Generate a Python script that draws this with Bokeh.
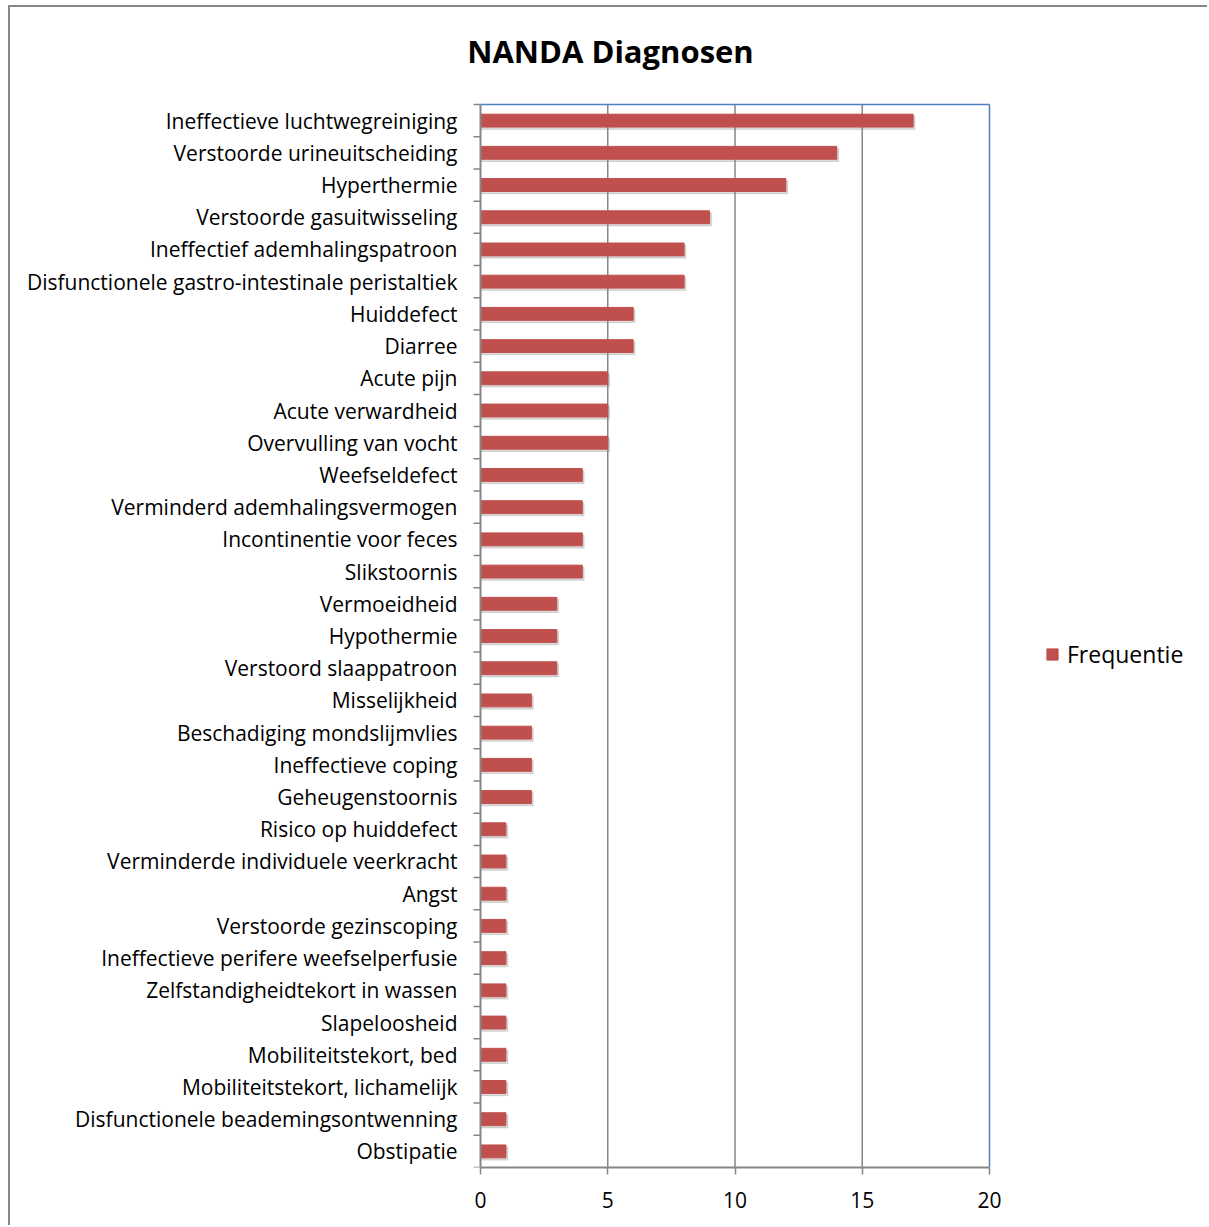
from bokeh.plotting import figure
from bokeh.models import Range1d, FixedTicker, ColumnDataSource, Legend, LegendItem, Label
from bokeh.transform import dodge
from bokeh.embed import file_html
from bokeh.resources import INLINE

categories = [
    "Ineffectieve luchtwegreiniging",
    "Verstoorde urineuitscheiding",
    "Hyperthermie",
    "Verstoorde gasuitwisseling",
    "Ineffectief ademhalingspatroon",
    "Disfunctionele gastro-intestinale peristaltiek",
    "Huiddefect",
    "Diarree",
    "Acute pijn",
    "Acute verwardheid",
    "Overvulling van vocht",
    "Weefseldefect",
    "Verminderd ademhalingsvermogen",
    "Incontinentie voor feces",
    "Slikstoornis",
    "Vermoeidheid",
    "Hypothermie",
    "Verstoord slaappatroon",
    "Misselijkheid",
    "Beschadiging mondslijmvlies",
    "Ineffectieve coping",
    "Geheugenstoornis",
    "Risico op huiddefect",
    "Verminderde individuele veerkracht",
    "Angst",
    "Verstoorde gezinscoping",
    "Ineffectieve perifere weefselperfusie",
    "Zelfstandigheidtekort in wassen",
    "Slapeloosheid",
    "Mobiliteitstekort, bed",
    "Mobiliteitstekort, lichamelijk",
    "Disfunctionele beademingsontwenning",
    "Obstipatie",
]
values = [17, 14, 12, 9, 8, 8, 6, 6, 5, 5, 5, 4, 4, 4, 4, 3, 3, 3, 2, 2, 2, 2,
          1, 1, 1, 1, 1, 1, 1, 1, 1, 1, 1]
x_ticks = [0, 5, 10, 15, 20]
x_max = 20
series_name = "Frequentie"
title_text = "NANDA Diagnosen"

FONT = "Open Sans"
AXIS_GREY = "#868686"
n = len(categories)
centers = [n - i - 0.5 for i in range(n)]
bounds = list(range(0, n + 1))
grid_ticks = x_ticks[1:-1]

src = ColumnDataSource(dict(y=centers, v=values, vs=[v + 0.07 for v in values],
                            name=categories))

# geometry (page pixels)
OX, OY = 10, 7                 # canvas offset inside outer chart border
PLOT_L, PLOT_R = 480, 989      # visible plot area (0..20)
PLOT_T, PLOT_B = 104, 1167
FRAME_L = 460                  # frame starts a bit left of the plot area (title room)
FRAME_R = 1209                 # frame extends to page edge (legend lives there)
px_x = (PLOT_R - PLOT_L) / x_max
px_y = (PLOT_B - PLOT_T) / n
x_start = -(PLOT_L - FRAME_L) / px_x
x_end = (FRAME_R - PLOT_L) / px_x
y_end = n + (PLOT_T - OY) / px_y
tick_len = 7 / px_x

p = figure(width=1209 - OX, height=1227 - OY, x_range=Range1d(x_start, x_end),
           y_range=Range1d(0, y_end),
           output_backend="svg", toolbar_location=None,
           min_border_left=FRAME_L - OX, min_border_right=0, min_border_top=0,
           min_border_bottom=1227 - PLOT_B)
p.styles = {"border-left": "2px solid #878787", "border-top": "2px solid #878787",
            "margin-left": "8px", "margin-top": "5px"}
p.background_fill_color = "white"
p.border_fill_color = "white"
p.outline_line_color = None
p.title.visible = False
p.xgrid.grid_line_color = None
p.ygrid.grid_line_color = None

# vertical grid lines inside the plot area
p.segment(x0=grid_ticks, y0=[0] * len(grid_ticks), x1=grid_ticks, y1=[n] * len(grid_ticks),
          line_color=AXIS_GREY, line_width=1.5)

p.hbar(y=dodge("y", -0.07, range=p.y_range), right="vs", left=0, height=0.4,
       source=src, color="#8a8a8a", alpha=0.3)
bars = p.hbar(y="y", right="v", left=0, height=0.4, source=src, color="#C0504D")

# blue edges of the plot area (right and top)
p.segment(x0=[x_max, 0], y0=[0, n], x1=[x_max, x_max], y1=[n, n],
          line_color="#4F81BD", line_width=1.5)

# category axis line and boundary ticks
p.segment(x0=[0], y0=[0], x1=[0], y1=[n], line_color=AXIS_GREY, line_width=2)
p.segment(x0=[-tick_len] * len(bounds), y0=bounds, x1=[0] * len(bounds), y1=bounds,
          line_color=AXIS_GREY, line_width=1.5)

# title
p.add_layout(Label(x=(610 - PLOT_L) / px_x, y=n + (PLOT_T - 50) / px_y, text=title_text,
                   text_font=FONT, text_font_style="bold", text_font_size="31px",
                   text_color="black", text_align="center", text_baseline="middle"))

# x axis
xa = p.below[0]
xa.bounds = (0, x_max)
xa.ticker = FixedTicker(ticks=x_ticks)
xa.axis_line_color = AXIS_GREY
xa.axis_line_width = 2
xa.major_tick_line_color = AXIS_GREY
xa.major_tick_line_width = 1.5
xa.major_tick_out = 7
xa.major_tick_in = 0
xa.minor_tick_line_color = None
xa.major_label_text_font = FONT
xa.major_label_text_font_size = "21px"
xa.major_label_text_color = "black"
xa.major_label_standoff = 17

# y axis: labels only (line and ticks drawn above)
ya = p.left[0]
ya.ticker = FixedTicker(ticks=centers)
ya.major_label_overrides = {c: name for c, name in zip(centers, categories)}
ya.axis_line_color = None
ya.major_tick_line_color = None
ya.minor_tick_line_color = None
ya.major_tick_out = 0
ya.major_tick_in = 0
ya.minor_tick_out = 0
ya.major_label_text_font = FONT
ya.major_label_text_font_size = "21px"
ya.major_label_text_color = "black"
ya.major_label_standoff = 3

# legend (inside the extended frame, right of the plot area)
lg = Legend(items=[LegendItem(label=series_name, renderers=[bars])],
            location=(1045 - FRAME_L, PLOT_B - 670))
lg.padding = 0
lg.margin = 0
lg.border_line_color = None
lg.background_fill_alpha = 0
lg.glyph_width = 14
lg.glyph_height = 14
lg.label_height = 14
lg.label_standoff = 8
lg.label_text_font = FONT
lg.label_text_font_size = "23px"
lg.label_text_color = "black"
p.add_layout(lg)

open("out.html", "w").write(file_html(p, INLINE))
